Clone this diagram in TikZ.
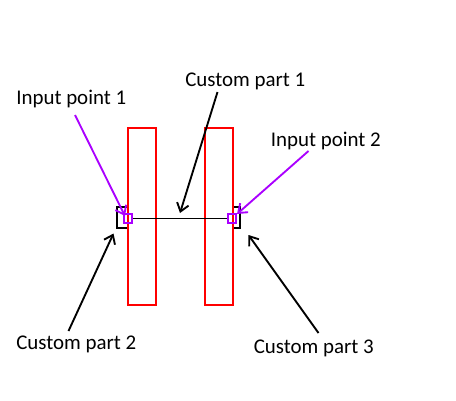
\documentclass[tikz,border=0pt]{standalone}
\usepackage{fontspec}
\setmainfont{Carlito}
\usetikzlibrary{arrows.meta}
\definecolor{ipviolet}{RGB}{170,0,255}
\begin{document}
\begin{tikzpicture}[x=0.75pt,y=-0.75pt,
  lbl/.style={anchor=base west,inner sep=0pt,font=\fontsize{15.7pt}{18pt}\selectfont},
  bar/.style={draw=red,line width=1.5pt,minimum width=21pt,minimum height=132.75pt,inner sep=0pt},
  ipbox/.style={draw=ipviolet,line width=1.6pt,minimum size=6.2pt,inner sep=0pt},
  brk/.style={draw=black,line width=1.5pt},
  blk/.style={draw=black,line width=1.4pt,-{Straight Barb[length=6pt,width=9pt]}},
  vio/.style={draw=ipviolet,line width=1.4pt,-{Straight Barb[length=6pt,width=9pt]}}]
\useasboundingbox (0,0) rectangle (456,400);
% brackets
\draw[brk] (128,207) -- (117,207) -- (117,228) -- (128,228);
\draw[brk] (233,207) -- (239.5,207) -- (239.5,228) -- (233,228);
% bars
\node[bar] (bar1) at (142,216.5) {};
\node[bar] (bar2) at (219,216.5) {};
% input points
\node[ipbox] (ip1) at (128,218.5) {};
\node[ipbox] (ip2) at (232,218.5) {};
\draw[line width=1.4pt] (ip1.east) -- (ip2.west);
% labels
\node[lbl] (t1) at (16,104) {Input point 1};
\node[lbl] (t2) at (185,86) {Custom part 1};
\node[lbl] (t3) at (270.5,146) {Input point 2};
\node[lbl] (t4) at (16,349) {Custom part 2};
\node[lbl] (t5) at (253.5,353.5) {Custom part 3};
% arrow ends
\coordinate (a1s) at (75,115);   \coordinate (a1e) at (125,216);
\coordinate (a2s) at (217.5,92); \coordinate (a2e) at (180,213);
\coordinate (a3s) at (308.5,151);\coordinate (a3e) at (237,214);
\coordinate (a4s) at (68.5,331); \coordinate (a4e) at (113.5,233.5);
\coordinate (a5s) at (318.5,333);\coordinate (a5e) at (248.5,235);
\draw[vio] (a1s) -- (a1e);
\draw[blk] (a2s) -- (a2e);
\draw[vio] (a3s) -- (a3e);
\draw[blk] (a4s) -- (a4e);
\draw[blk] (a5s) -- (a5e);
\end{tikzpicture}
\end{document}
